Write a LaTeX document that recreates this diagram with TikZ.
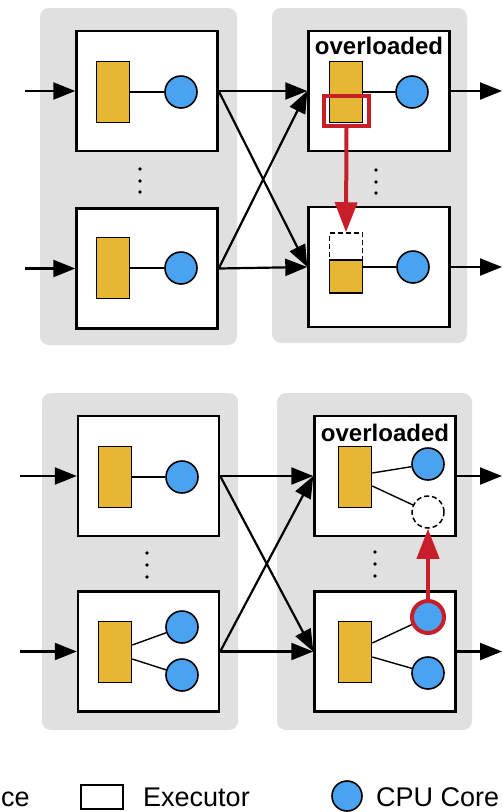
\documentclass[tikz,border=0pt]{standalone}
\usepackage{fontspec}
\setmainfont{Liberation Sans}
\usetikzlibrary{arrows.meta}
\definecolor{paneltint}{RGB}{224,224,224}
\definecolor{taskyellow}{RGB}{231,182,51}
\definecolor{coreblue}{RGB}{74,163,240}
\definecolor{movered}{RGB}{200,30,42}
\begin{document}
\begin{tikzpicture}[x=1pt, y=-1pt,
        panel/.style={fill=paneltint, rounded corners=9pt},
        executor/.style={draw, line width=2.4pt, fill=white, minimum width=141pt, minimum height=120pt, inner sep=0pt},
        task/.style={draw, line width=1.6pt, fill=taskyellow, minimum width=33pt, minimum height=61pt, inner sep=0pt},
        gap/.style={draw, line width=1.5pt, dash pattern=on 5pt off 3pt, fill=white, minimum width=33pt, minimum height=27pt, inner sep=0pt},
        core/.style={circle, draw, line width=1.6pt, fill=coreblue, minimum size=32pt, inner sep=0pt},
        freecore/.style={circle, draw, line width=1.5pt, dash pattern=on 5pt off 3pt, fill=white, minimum size=32pt, inner sep=0pt},
        tag/.style={font=\fontsize{24}{28}\selectfont\bfseries, inner sep=0pt},
        legend/.style={font=\fontsize{27}{32}\selectfont, inner sep=0pt},
        link/.style={line width=1.4pt},
        flow/.style={line width=2.2pt, -{Triangle[length=22pt, width=17pt]}},
        move/.style={draw=movered, line width=4pt, -{Triangle[length=30pt, width=22pt]}}
    ]
    \useasboundingbox (0,0) rectangle (503,812);

    % Upper case: a task moves
    \fill[panel] (40,8) rectangle (237,345);
    \fill[panel] (272,8) rectangle (467,343);

    \node[executor] (e1) at (147,91) {};
    \node[executor] (e2) at (147,268.5) {};
    \node[executor] (e3) at (379,91) {};
    \node[executor] (e4) at (379,267) {};

    \node[task] (t1) at (113,92) {};
    \node[core] (c1) at (181,92) {};
    \draw[link] (t1) -- (c1);
    \node[task] (t2) at (113,268) {};
    \node[core] (c2) at (181,268) {};
    \draw[link] (t2) -- (c2);

    \node[tag] (ov1) at (379,46) {overloaded};
    \node[task] (t3) at (346,92) {};
    \node[core] (c3) at (412,92) {};
    \draw[link] (t3) -- (c3);
    \node[draw=movered, line width=4pt, minimum width=45pt, minimum height=30pt, inner sep=0pt] (hl) at (346.5,111) {};

    \node[gap] (g4) at (346,246.5) {};
    \node[task, minimum height=33pt] (t4) at (346,276.5) {};
    \node[core] (c4) at (413,267) {};
    \draw[link] (c4 -| t4.east) -- (c4);

    \foreach \x/\y in {140/169, 140/181, 140/192, 376/170, 376/182, 376/193}
        \fill (\x,\y) circle (1.8pt);

    \coordinate (i1) at (25,91);
    \coordinate (i2) at (25,268.5);
    \coordinate (o1) at (502,91);
    \coordinate (o2) at (502,267);
    \draw[flow] (i1) -- (e1.west);
    \draw[flow] (i2) -- (e2.west);
    \draw[flow] (e1.east) -- (e3.west);
    \draw[flow] (e1.east) -- (e4.west);
    \draw[flow] (e2.east) -- (e3.west);
    \draw[flow] (e2.east) -- (e4.west);
    \draw[flow] (e3.east) -- (o1);
    \draw[flow] (e4.east) -- (o2);
    \draw[move] (hl.south) -- (g4.north);

    % Lower case: a core moves
    \fill[panel] (42,393) rectangle (238,730);
    \fill[panel] (277,393) rectangle (472,730);

    \node[executor] (e5) at (148.5,476) {};
    \node[executor] (e6) at (148.5,651.5) {};
    \node[executor] (e7) at (385,476) {};
    \node[executor] (e8) at (385,651.5) {};

    \node[task] (t5) at (115,477) {};
    \node[core] (c5) at (182,477) {};
    \draw[link] (t5) -- (c5);
    \node[task] (t6) at (115,652) {};
    \node[core] (c6a) at (182,627) {};
    \node[core] (c6b) at (182,675) {};
    \draw[link] ([yshift=7pt]t6.east) -- (c6a);
    \draw[link] ([yshift=-7pt]t6.east) -- (c6b);

    \node[tag] (ov2) at (385,433) {overloaded};
    \node[task] (t7) at (355,477) {};
    \node[core] (c7a) at (428,464) {};
    \node[freecore] (c7b) at (428,512) {};
    \draw[link] ([yshift=4pt]t7.east) -- (c7a);
    \draw[link] ([yshift=-9pt]t7.east) -- (c7b);
    \node[task] (t8) at (355,652) {};
    \node[core, draw=movered, line width=4pt] (c8a) at (428,617) {};
    \node[core] (c8b) at (428,673) {};
    \draw[link] ([yshift=9pt]t8.east) -- (c8a);
    \draw[link] ([yshift=-5pt]t8.east) -- (c8b);

    \foreach \x/\y in {147/553, 147/565, 147/577, 375/552, 375/564, 375/576}
        \fill (\x,\y) circle (1.8pt);

    \coordinate (i3) at (20,476);
    \coordinate (i4) at (20,651.5);
    \coordinate (o3) at (502,476);
    \coordinate (o4) at (502,651.5);
    \draw[flow] (i3) -- (e5.west);
    \draw[flow] (i4) -- (e6.west);
    \draw[flow] (e5.east) -- (e7.west);
    \draw[flow] (e5.east) -- (e8.west);
    \draw[flow] (e6.east) -- (e7.west);
    \draw[flow] (e6.east) -- (e8.west);
    \draw[flow] (e7.east) -- (o3);
    \draw[flow] (e8.east) -- (o4);
    \draw[move] (c8a.north) -- (c7b.south);

    % Legend
    \node[legend, anchor=base west] (lg0) at (1,806) {ce};
    \node[draw, line width=2pt, minimum width=42pt, minimum height=24pt, inner sep=0pt] (lg1) at (102,797) {};
    \node[legend, anchor=base west] (lg2) at (143,806) {Executor};
    \node[core, minimum size=30pt] (lg3) at (347,796) {};
    \node[legend, anchor=base west] (lg4) at (376,806) {CPU Core};
\end{tikzpicture}
\end{document}
